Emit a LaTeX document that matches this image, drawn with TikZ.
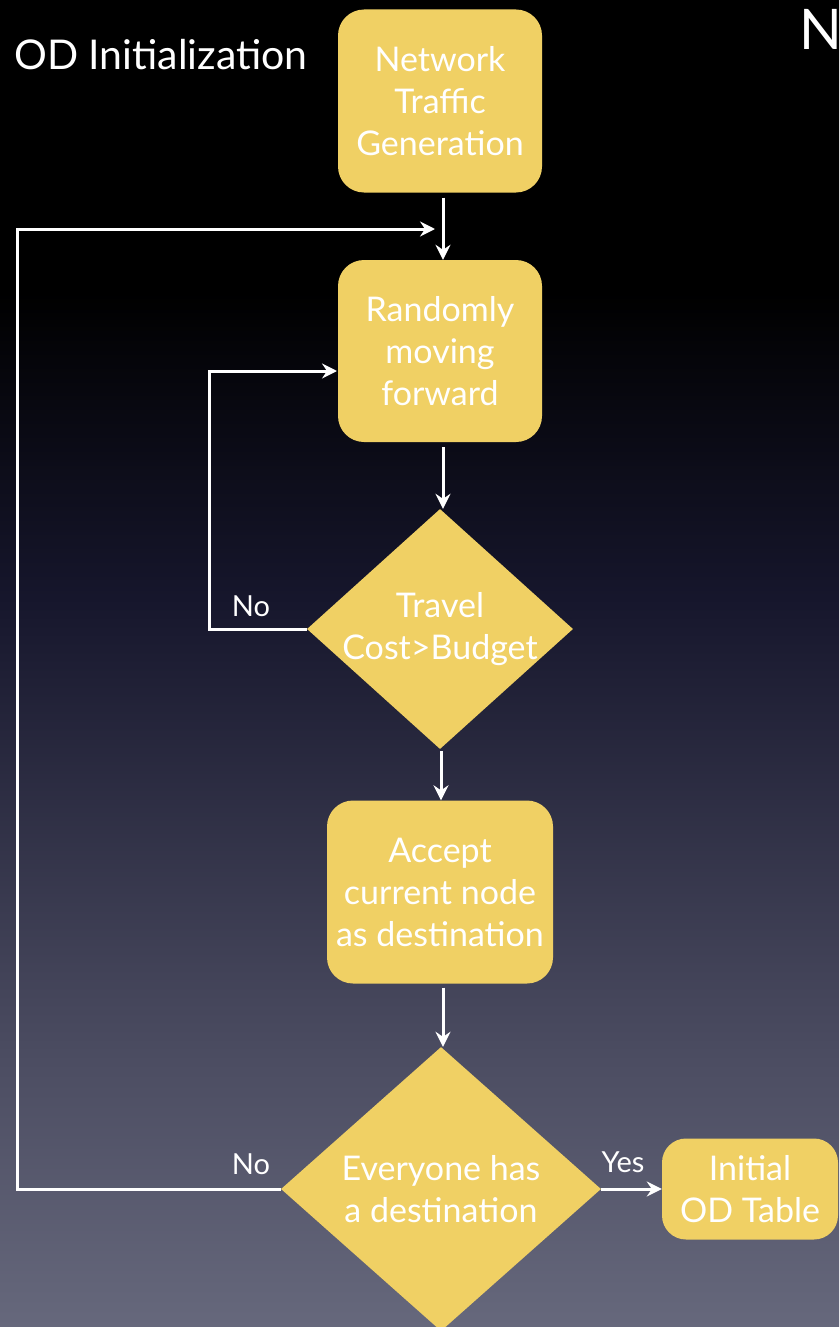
\documentclass[tikz,border=0pt]{standalone}
\usepackage{fontspec}
\setmainfont{Lato}
\usetikzlibrary{shapes.geometric,arrows.meta}
\definecolor{boxfill}{RGB}{240,208,100}
\definecolor{bgbot}{RGB}{102,104,124}
\definecolor{bglow}{RGB}{76,77,98}
\definecolor{bgmid}{RGB}{22,22,44}
\pgfdeclareverticalshading{bgshade}{100bp}{color(0bp)=(bgbot); color(25bp)=(bgbot); color(35bp)=(bglow); color(52.5bp)=(bgmid); color(64bp)=(black); color(100bp)=(black)}
\tikzset{
  stepbox/.style={rectangle, rounded corners=26pt, fill=boxfill, text=white, align=center,
     font=\fontsize{34}{42}\selectfont, inner sep=0pt},
  decide/.style={diamond, fill=boxfill, inner sep=0pt},
  dtext/.style={text=white, align=center, inner sep=0pt, font=\fontsize{34}{42}\selectfont},
  arr/.style={draw=white, line width=3pt, -{Stealth[length=15pt,width=15pt,inset=5pt]}},
  lbl/.style={text=white, font=\fontsize{29}{32}\selectfont, inner sep=0pt}
}
\begin{document}
\begin{tikzpicture}[x=1pt,y=-1pt]
\useasboundingbox (0,0) rectangle (839,1327);
\shade[shading=bgshade] (0,0) rectangle (839,1327);

\node[text=white, anchor=west, inner sep=0pt, font=\fontsize{41}{44}\selectfont] (title) at (14,55) {OD Initialization};
\node[text=white, anchor=west, inner sep=0pt, font=\fontsize{56}{60}\selectfont] (ncut) at (799,29) {N};

\node[stepbox, minimum width=204pt, minimum height=183pt] (b1) at (440,101) {Network\\Traffic\\Generation};
\node[stepbox, minimum width=204pt, minimum height=182pt] (b2) at (440,351) {Randomly\\moving\\forward};
\node[decide, minimum width=266pt, minimum height=240pt] (d1) at (440,629) {};
\node[dtext] (d1t) at (d1.center) {Travel\\Cost>Budget};
\node[stepbox, minimum width=226pt, minimum height=183pt] (b3) at (440,892) {Accept\\current node\\as destination};
\node[decide, minimum width=320pt, minimum height=284pt] (d2) at (441,1189) {};
\node[dtext] (d2t) at (d2.center) {Everyone has\\a destination};
\node[stepbox, minimum width=176pt, minimum height=101pt, rounded corners=24pt] (b4) at (750,1189) {Initial\\OD Table};

\coordinate (loopa) at (17,1189);
\coordinate (loopb) at (17,229);
\coordinate (loopin) at (435,229);
\coordinate (noa) at (209,629);
\coordinate (nob) at (209,371);
\coordinate (noin) at (337,371);

\draw[arr] ([xshift=3pt,yshift=-5pt]b1.south) -- ([xshift=3pt]b2.north);
\draw[arr] ([xshift=3pt,yshift=-5pt]b2.south) -- ([xshift=3pt]d1.north);
\draw[arr] ([xshift=1pt,yshift=-2pt]d1.south) -- ([xshift=1pt]b3.north);
\draw[arr] ([xshift=3pt,yshift=-4pt]b3.south) -- ([xshift=2pt]d2.north);
\draw[arr] (d2.east) -- (b4.west);
\draw[arr] (d2.west) -- (loopa) -- (loopb) -- (loopin);
\draw[arr] (d1.west) -- (noa) -- (nob) -- (noin);

\node[lbl] (no1) at (251,606) {No};
\node[lbl] (no2) at (251,1164) {No};
\node[lbl] (yes) at (623,1162) {Yes};
\end{tikzpicture}
\end{document}
